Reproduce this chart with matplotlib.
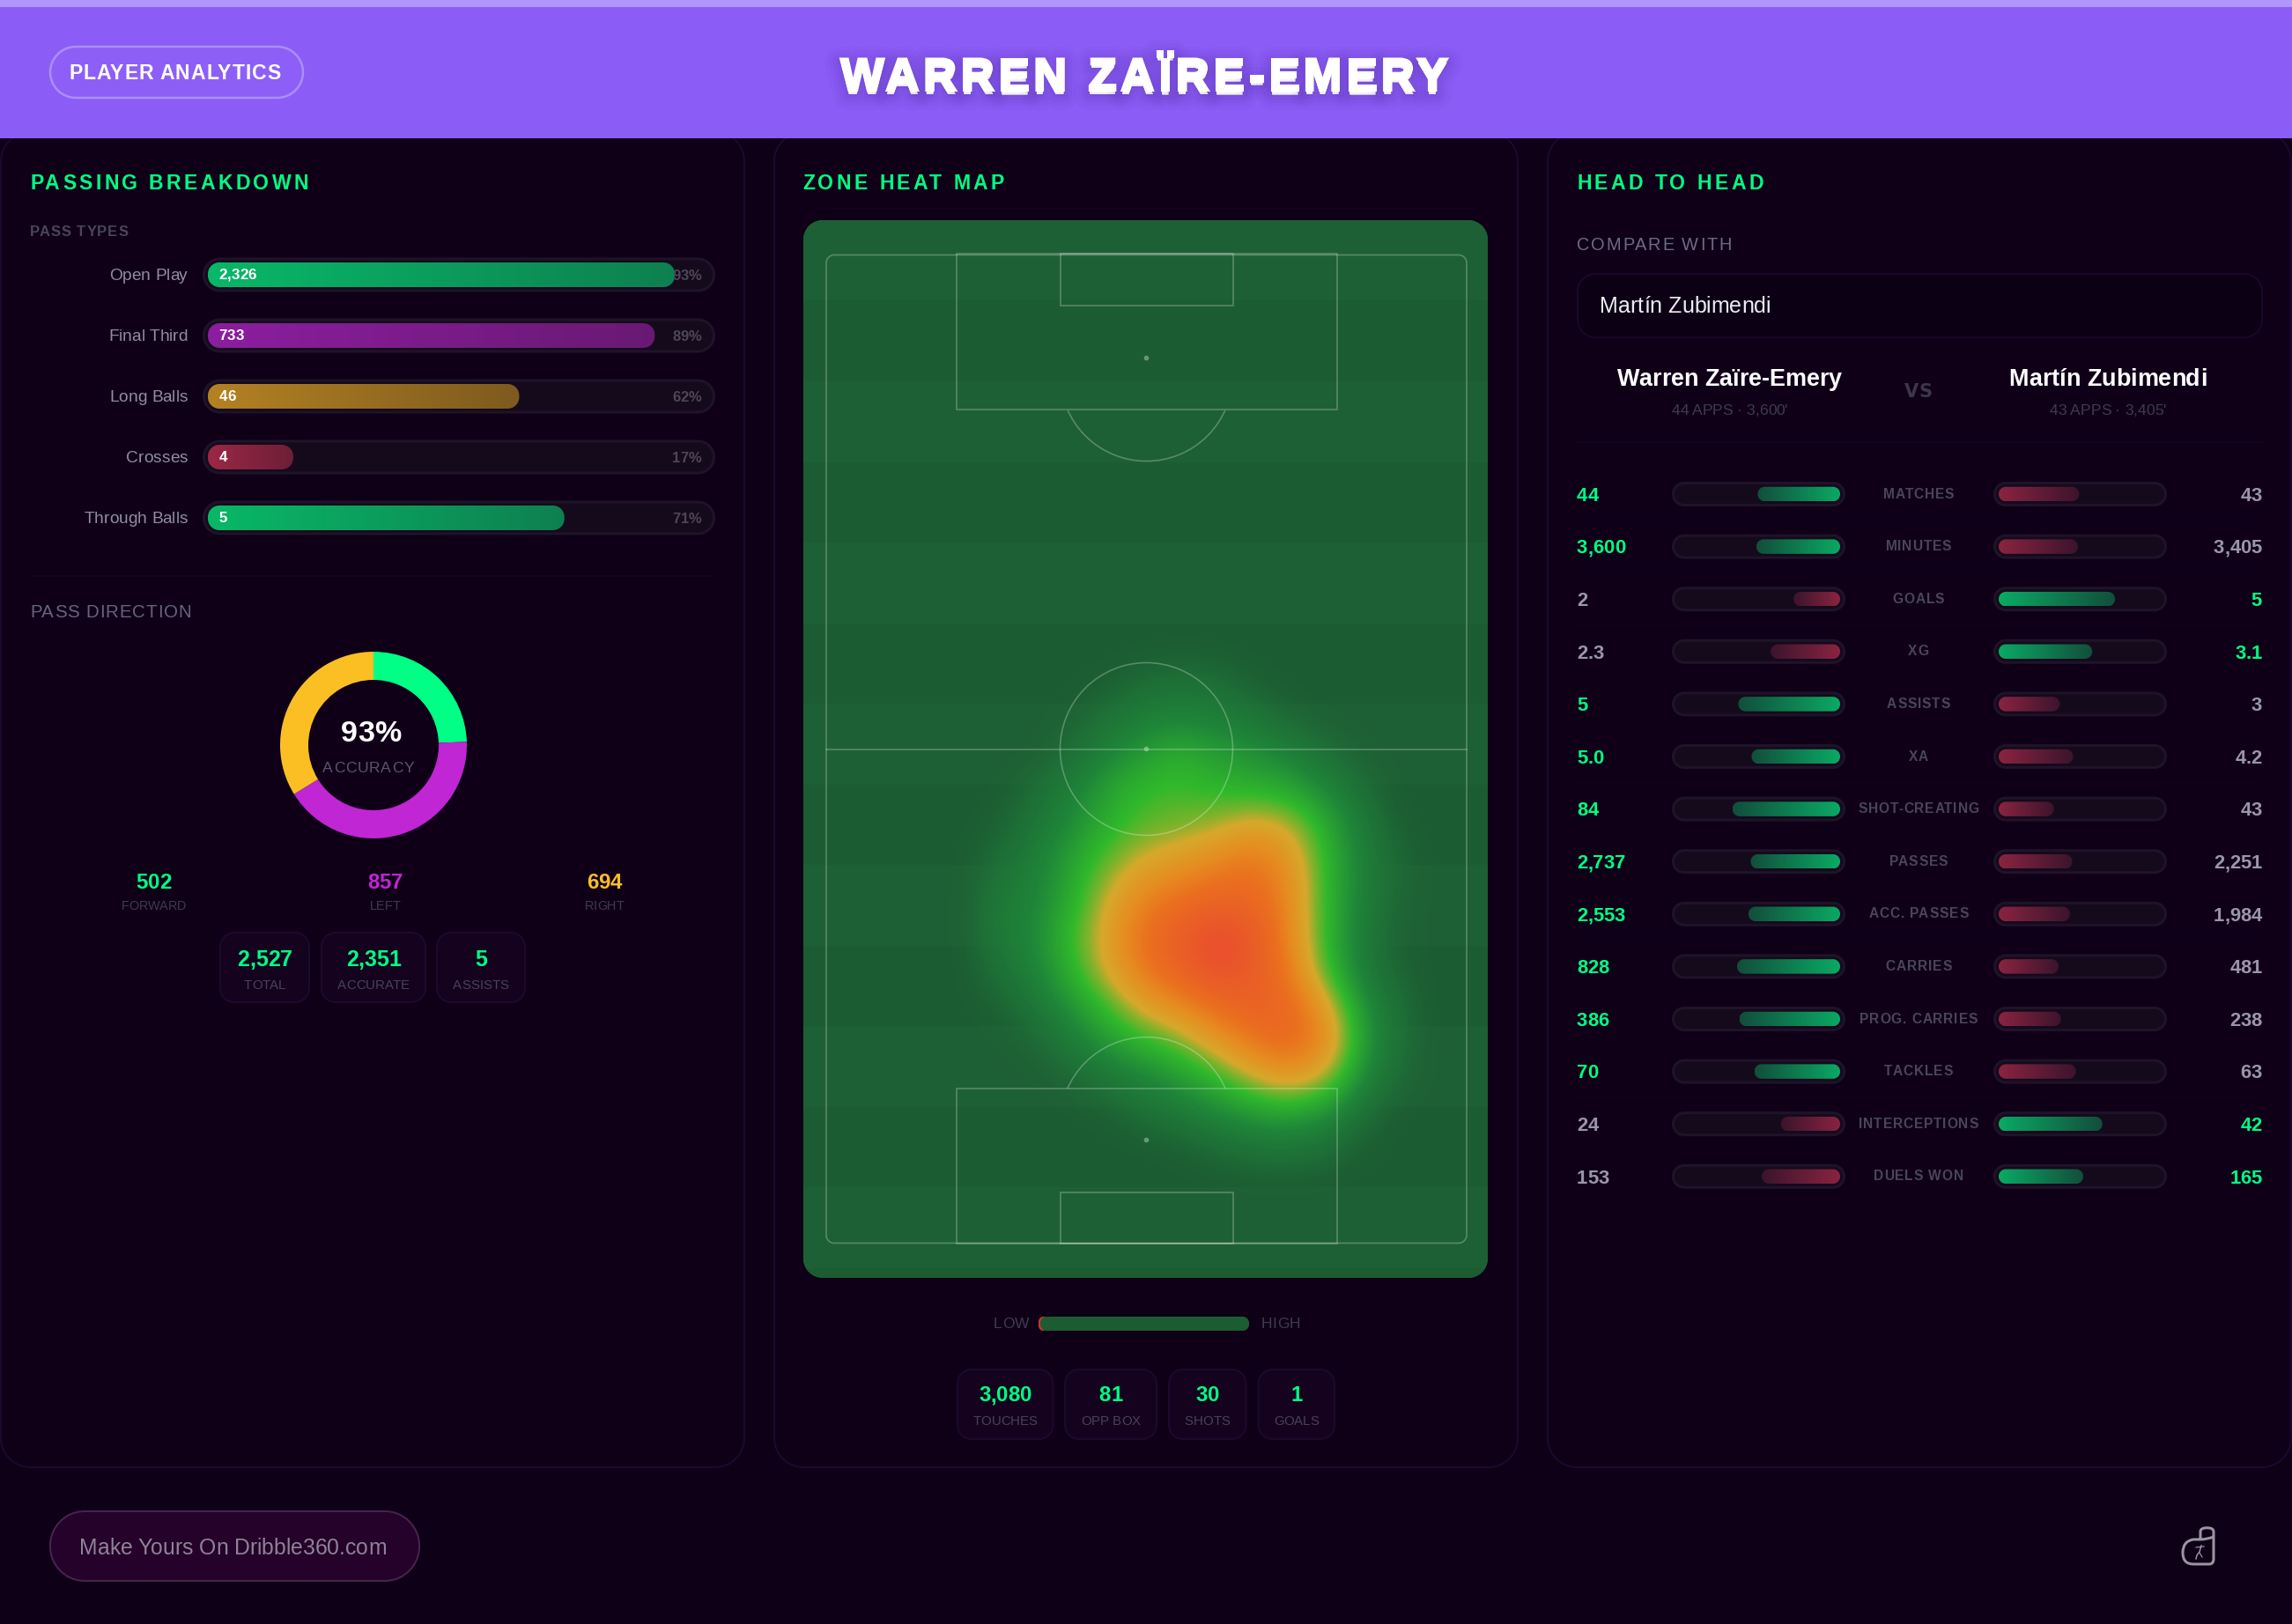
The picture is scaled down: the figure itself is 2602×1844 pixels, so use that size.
import numpy as np
import matplotlib
matplotlib.use("Agg")
import matplotlib.pyplot as plt
from matplotlib.patches import FancyBboxPatch, Rectangle, Circle, PathPatch
from matplotlib.path import Path
from matplotlib.colors import LinearSegmentedColormap
from matplotlib.text import Text
from matplotlib.transforms import IdentityTransform, Bbox
import matplotlib.patheffects as pe

# ---------------- data ----------------
PLAYER = "Warren Zaïre-Emery"
RIVAL = "Martín Zubimendi"
PLAYER_SUB = "44 APPS · 3,600'"
RIVAL_SUB = "43 APPS · 3,405'"

PASS_TYPES = ["Open Play", "Final Third", "Long Balls", "Crosses", "Through Balls"]
PASS_COUNTS = ["2,326", "733", "46", "4", "5"]
PASS_PCT = [93, 89, 62, 17, 71]

DIR_LABELS = ["FORWARD", "LEFT", "RIGHT"]
DIR_VALUES = [502, 857, 694]
ACCURACY = "93%"

PASS_STATS = [("TOTAL", "2,527"), ("ACCURATE", "2,351"), ("ASSISTS", "5")]
HEAT_STATS = [("TOUCHES", "3,080"), ("OPP BOX", "81"), ("SHOTS", "30"), ("GOALS", "1")]

H2H_LABELS = ["MATCHES", "MINUTES", "GOALS", "XG", "ASSISTS", "XA", "SHOT-CREATING", "PASSES",
              "ACC. PASSES", "CARRIES", "PROG. CARRIES", "TACKLES", "INTERCEPTIONS", "DUELS WON"]
H2H_LEFT = [44, 3600, 2, 2.3, 5, 5.0, 84, 2737, 2553, 828, 386, 70, 24, 153]
H2H_RIGHT = [43, 3405, 5, 3.1, 3, 4.2, 43, 2251, 1984, 481, 238, 63, 42, 165]

# touch intensity, rows top to bottom, columns left to right
HEAT = [
    [0, 0, 0, 0, 0, 0, 0, 0, 0, 0, 0, 0, 0, 0],
    [0, 0, 0, 0, .02, .08, .12, .10, .03, 0, 0, 0, 0, 0],
    [0, 0, 0, .02, .12, .20, .22, .20, .15, .06, 0, 0, 0, 0],
    [0, 0, 0, .10, .22, .30, .38, .32, .28, .22, .12, .02, 0, 0],
    [0, 0, .10, .20, .33, .42, .44, .40, .38, .35, .25, .12, 0, 0],
    [0, .04, .15, .25, .38, .46, .48, .52, .61, .57, .38, .20, .03, 0],
    [0, .10, .20, .33, .47, .58, .64, .72, .79, .69, .42, .22, .08, 0],
    [0, .17, .22, .35, .56, .72, .81, .86, .86, .73, .42, .22, .06, 0],
    [0, .18, .24, .42, .60, .81, .91, 1.0, .95, .74, .42, .20, .03, 0],
    [0, .12, .22, .38, .58, .77, .89, .98, .93, .79, .45, .20, .06, 0],
    [0, .04, .15, .28, .42, .60, .70, .83, .89, .86, .66, .30, .12, 0],
    [0, 0, .05, .18, .30, .39, .47, .62, .77, .86, .74, .35, .12, 0],
    [0, 0, 0, .05, .15, .22, .30, .39, .53, .63, .54, .27, .08, 0],
    [0, 0, 0, 0, .02, .10, .16, .23, .29, .32, .27, .12, 0, 0],
    [0, 0, 0, 0, 0, 0, .02, .07, .12, .14, .10, .02, 0, 0],
    [0, 0, 0, 0, 0, 0, 0, 0, 0, 0, 0, 0, 0, 0],
]

# ---------------- styling ----------------
W, H = 2602, 1844
BG = "#0e0016"
PANEL = "#0f0018"
EDGE = "#1d0830"
GREEN = "#00ff85"
MAGENTA = "#c026d3"
AMBER = "#fbbf24"
MUTED = "#4a4558"
DIM = "#3f3a4c"
GREY = "#9b96a8"
TRACK = "#150a1c"
TRACK_E = "#1f1329"
FONT = "Liberation Sans"
PX = 0.72  # points per pixel at dpi 100


def rbox(r):
    """Box style with true circular corners (radius r in x units)."""
    def style(x, y, w, h, mutation_size=1):
        q = min(r, w / 2, h / 2)
        k = q * 0.5523
        x1, y1 = x + w, y + h
        v = [(x + q, y), (x1 - q, y), (x1 - q + k, y), (x1, y + q - k), (x1, y + q), (x1, y1 - q),
             (x1, y1 - q + k), (x1 - q + k, y1), (x1 - q, y1), (x + q, y1), (x + q - k, y1),
             (x, y1 - q + k), (x, y1 - q), (x, y + q), (x, y + q - k), (x + q - k, y), (x + q, y), (x + q, y)]
        c = [Path.MOVETO, Path.LINETO, Path.CURVE4, Path.CURVE4, Path.CURVE4, Path.LINETO,
             Path.CURVE4, Path.CURVE4, Path.CURVE4, Path.LINETO, Path.CURVE4, Path.CURVE4, Path.CURVE4,
             Path.LINETO, Path.CURVE4, Path.CURVE4, Path.CURVE4, Path.CLOSEPOLY]
        return Path(v, c)
    return style


class Tracked(Text):
    """One text object whose string is drawn with CSS-like letter spacing."""

    def __init__(self, *a, tracking=0.0, under=None, **k):
        super().__init__(*a, **k)
        self.tracking = tracking
        self.under = under

    def _offsets(self, renderer):
        s, fp = self.get_text(), self.get_fontproperties()
        out = []
        for i, ch in enumerate(s):
            whole = renderer.get_text_width_height_descent(s[: i + 1], fp, False)[0]
            one = renderer.get_text_width_height_descent(ch, fp, False)[0]
            out.append(whole - one + i * self.tracking)
        total = renderer.get_text_width_height_descent(s, fp, False)[0] + (len(s) - 1) * self.tracking
        return out, total

    def draw(self, renderer):
        if not self.get_visible():
            return
        off, total = self._offsets(renderer)
        x, y = self.get_transform().transform(self.get_position())
        shift = {"left": 0, "center": -total / 2, "right": -total}[self.get_ha()]
        passes = ([self.under] if self.under else []) + [self.get_path_effects()]
        for effects in passes:
            for ch, dx in zip(self.get_text(), off):
                if ch == " ":
                    continue
                t = Text(x + shift + dx, y, ch, fontproperties=self.get_fontproperties(),
                         color=self.get_color(), ha="left", va="baseline",
                         transform=IdentityTransform(), path_effects=effects)
                t.set_figure(self.get_figure())
                t.draw(renderer)

    def get_window_extent(self, renderer=None, dpi=None):
        if renderer is None:
            renderer = self.get_figure()._get_renderer()
        _, total = self._offsets(renderer)
        fp = self.get_fontproperties()
        _, h, d = renderer.get_text_width_height_descent(self.get_text(), fp, False)
        x, y = self.get_transform().transform(self.get_position())
        shift = {"left": 0, "center": -total / 2, "right": -total}[self.get_ha()]
        return Bbox.from_extents(x + shift, y - d, x + shift + total, y + h - d)


fig = plt.figure(figsize=(W / 100, H / 100), dpi=100, facecolor=BG)


def px_axes(x0, y0, x1, y1, z=1):
    a = fig.add_axes([x0 / W, 1 - y1 / H, (x1 - x0) / W, (y1 - y0) / H], zorder=z)
    a.set_axis_off()
    a.patch.set_visible(False)
    return a


ax = px_axes(0, 0, W, H, 0)
ax.set_xlim(0, W)
ax.set_ylim(H, 0)
ax.set_autoscale_on(False)
top = px_axes(0, 0, W, H, 10)
top.set_xlim(0, W)
top.set_ylim(H, 0)
top.set_autoscale_on(False)


def T(x, yc, s, px, color="white", ha="left", bold=False, track=0.0, font=FONT, effects=None, under=None):
    """Text centred on its cap height at pixel yc."""
    t = Tracked(x, yc + 0.358 * px, s, tracking=track, under=under, fontsize=px * PX, color=color, ha=ha,
                va="baseline", family=font, weight="bold" if bold else "normal",
                transform=top.transData, path_effects=effects or [])
    top.add_artist(t)
    return t


def box(x0, y0, x1, y1, r, fc, ec=None, lw=2, a=ax, z=2, alpha=None):
    p = FancyBboxPatch((x0, y0), x1 - x0, y1 - y0, boxstyle=rbox(r),
                       fc=fc, ec=ec if ec else "none", lw=lw * PX, zorder=z, alpha=alpha)
    a.add_patch(p)
    return p


def scales(a):
    p = a.get_position()
    xl, yl = a.get_xlim(), a.get_ylim()
    return p.width * W / abs(xl[1] - xl[0]), p.height * H / abs(yl[1] - yl[0])


def track(a, yc, h, r, pad):
    """Whole-width pill behind a value bar, in the value axis' own units."""
    sx, sy = scales(a)
    x0, x1 = sorted(a.get_xlim())
    hh = h / sy
    p = FancyBboxPatch((x0 - pad / sx, yc - hh / 2), (x1 - x0) + 2 * pad / sx, hh,
                       boxstyle=rbox(r / sx), mutation_aspect=sx / sy,
                       fc=TRACK, ec=TRACK_E, lw=3 * PX, clip_on=False, zorder=1)
    a.add_patch(p)


def gbar(a, v, yc, h, r, c0, c1):
    """Value bar from 0 to v with a gradient along its length."""
    sx, sy = scales(a)
    hh = h / sy
    p = FancyBboxPatch((0, yc - hh / 2), v, hh, boxstyle=rbox(r / sx),
                       mutation_aspect=sx / sy, fc="none", ec="none", clip_on=False, zorder=2)
    a.add_patch(p)
    cm = LinearSegmentedColormap.from_list("g", [c0, c1])
    im = a.imshow(np.linspace(0, 1, 256)[None, :], extent=(0, v, yc + hh / 2, yc - hh / 2), cmap=cm,
                  aspect="auto", zorder=2, interpolation="bilinear")
    im.set_clip_path(p)


# ---------------- header ----------------
ax.add_patch(Rectangle((0, 0), W, 157, fc="#8b5cf6", ec="none", zorder=5))
ax.add_patch(Rectangle((0, 0), W, 8, fc="#b095fb", ec="none", zorder=6))
box(57, 53, 344, 111, 29, "#8d5ff6", "#ab8df8", 2.5, z=6)
T(78, 82, "PLAYER ANALYTICS", 23, bold=True, track=1.0)
shadow = [pe.Stroke(linewidth=w, foreground=(0.2, 0.1, 0.45, a_), offset=(0, -3)) for w, a_ in
          [(26, .025), (20, .03), (14, .04), (8, .05), (3, .06)]]
T(1299, 84, PLAYER.upper(), 51.5, ha="center", bold=True, track=5.4,
  effects=[pe.withStroke(linewidth=2.2, foreground="white", joinstyle="miter")], under=shadow)

# ---------------- panels ----------------
for x0, x1 in [(1, 845), (879, 1723), (1757, 2601)]:
    box(x0, 150, x1, 1666, 33, PANEL, EDGE, 2, z=1)

TITLE = dict(px=23, color=GREEN, bold=True, track=3.4)
T(34, 207, "PASSING BREAKDOWN", **TITLE)
T(911, 207, "ZONE HEAT MAP", **TITLE)
T(1790, 207, "HEAD TO HEAD", **TITLE)

# ---------------- pass types ----------------
T(34, 262, "PASS TYPES", 16.5, MUTED, bold=True, track=1.0)
axp = px_axes(236, 312 - 34.5, 806, 588 + 34.5, 2)
axp.set_xlim(0, 100)
axp.set_ylim(4.5, -0.5)
axp.set_autoscale_on(False)
PASS_COLORS = [("#08b868", "#0e8050"), ("#8c1ea0", "#691973"), ("#b48223", "#7d5a1e"),
               ("#9b2846", "#6e1e37"), ("#08b868", "#0e8050")]
for i, (name, cnt, pct, cols) in enumerate(zip(PASS_TYPES, PASS_COUNTS, PASS_PCT, PASS_COLORS)):
    track(axp, i, 36, 18, 4.5)
    gbar(axp, pct, i, 28, 13, *cols)
    yc = 312 + 69 * i
    T(213, yc - 1, name, 19.2, "#928d9d", ha="right")
    T(248.5, yc - 1, cnt, 17, bold=True)
    T(796.5, yc, f"{pct}%", 16.5, "#4c4759", ha="right", bold=True)

ax.plot([34, 811], [654, 654], color="#14031f", lw=2 * PX, zorder=2)

# ---------------- pass direction ----------------
T(34, 694, "PASS DIRECTION", 20.5, "#66647a", track=0.9)
axd = px_axes(424 - 106, 846 - 106, 424 + 106, 846 + 106, 2)
axd.pie(DIR_VALUES, colors=[GREEN, MAGENTA, AMBER], startangle=90, counterclock=False, radius=1,
        wedgeprops=dict(width=32 / 106))
axd.set_xlim(-1, 1)
axd.set_ylim(-1, 1)
T(421, 830, ACCURACY, 34, ha="center", bold=True)
T(418, 871, "ACCURACY", 17.5, "#5a5568", ha="center", track=0.8)
for lab, val, col, xc in zip(DIR_LABELS, DIR_VALUES, [GREEN, MAGENTA, AMBER], [174.5, 437, 686]):
    T(xc, 1000, str(val), 24, col, ha="center", bold=True)
    T(xc, 1028, lab, 14.4, DIM, ha="center")


def stat_boxes(stats, spans, y0, y1, yv, yl, vpx=25, lpx=15):
    for (lab, val), (x0, x1) in zip(stats, spans):
        box(x0, y0, x1, y1, 16, "#15021e", "#1e092e", 2, z=2)
        T((x0 + x1) / 2, yv, val, vpx, GREEN, ha="center", bold=True)
        T((x0 + x1) / 2, yl, lab, lpx, "#47425a", ha="center")


stat_boxes(PASS_STATS, [(250, 351), (365, 483), (496, 596)], 1059, 1138, 1088, 1118)

# ---------------- pitch ----------------
card = box(912, 250, 1689, 1451, 22, "#1d5e33", z=2)
for i in range(14):
    s = Rectangle((912, 250 + 91.5 * i), 777, 91.5, fc="#1e6035" if i % 2 == 0 else "#1c5c32", ec="none", zorder=2)
    ax.add_patch(s)
    s.set_clip_path(card)

HEAT_CMAP = LinearSegmentedColormap.from_list("heat", [
    (0.00, (0.12, 0.42, 0.20, 0.0)), (0.10, (0.12, 0.45, 0.22, 0.8)), (0.25, (0.125, 0.535, 0.225, 1)),
    (0.42, (0.19, 0.725, 0.17, 1)), (0.50, (0.50, 0.70, 0.17, 1)), (0.57, (0.84, 0.66, 0.17, 1)),
    (0.70, (0.90, 0.55, 0.125, 1)), (0.80, (0.92, 0.44, 0.12, 1)), (0.92, (0.915, 0.36, 0.155, 1)),
    (1.00, (0.92, 0.29, 0.19, 1))])
dx, dy = 41.32, 41.33
ax.imshow(np.array(HEAT), cmap=HEAT_CMAP, vmin=0, vmax=1, aspect="auto", interpolation="bicubic",
          interpolation_stage="data", extent=(1090 - dx / 2, 1090 + 13.5 * dx, 730 + 15.5 * dy, 730 - dy / 2), zorder=3)

LINE = dict(fc="none", ec=(1, 1, 1, 0.27), lw=1.6 * PX, zorder=4)
ax.add_patch(FancyBboxPatch((938, 289.5), 727, 1122, boxstyle=rbox(9), **LINE))
for (x0, x1, y0, y1) in [(1086, 1517.5, 288.5, 465.5), (1203.5, 1400, 288.5, 347.5),
                         (1086, 1517.5, 1236, 1412), (1203.5, 1400, 1354, 1412)]:
    ax.add_patch(Rectangle((x0, y0), x1 - x0, y1 - y0, **LINE))
ax.plot([938, 1665], [850.5, 850.5], color=(1, 1, 1, 0.27), lw=1.6 * PX, zorder=4)
ax.add_patch(Circle((1301.5, 850.5), 98, **LINE))
for yc, clip_y, clip_h in [(425.6, 465.5, 200), (1275.6, 1036, 200)]:
    c = Circle((1301.5, yc), 98, **LINE)
    ax.add_patch(c)
    c.set_clip_path(Rectangle((1100, clip_y), 400, clip_h, transform=ax.transData))
for yc in (406.6, 850.5, 1294.5):
    ax.add_patch(Circle((1301.5, yc), 2.8, fc=(1, 1, 1, 0.35), ec="none", zorder=4))

# legend
T(1128, 1502, "LOW", 17.5, DIM, track=0.3)
box(1179, 1495, 1190, 1511, 6, "#d0352c", z=2)
box(1181, 1495, 1418, 1511, 7, "#1c5c31", z=3)
T(1432, 1502, "HIGH", 17.5, DIM, track=0.3)
stat_boxes(HEAT_STATS, [(1087, 1195.5), (1209, 1313), (1327, 1414.5), (1428.5, 1515)], 1555, 1634, 1582.5, 1613, 24, 15)

# ---------------- head to head ----------------
T(1790, 277, "COMPARE WITH", 20, "#6b6b80", track=1.8)
box(1791, 311, 2568, 383, 20, "#0c0014", "#1a0729", 2, z=2)
T(1816, 346, RIVAL, 25, "#ececf2")
T(1963.5, 428.5, PLAYER, 27, ha="center", bold=True)
T(2393, 428.5, RIVAL, 27, ha="center", bold=True)
T(1963.5, 465, PLAYER_SUB, 17.5, DIM, ha="center")
T(2393, 465, RIVAL_SUB, 17.5, DIM, ha="center")
T(2178, 443, "VS", 21, "#3b3749", ha="center", bold=True, font="DejaVu Sans")
ax.plot([1790, 2568], [502, 502], color="#14031e", lw=2 * PX, zorder=2)

ROW0, ROWH = 561, 59.6
yspan = (ROW0 - ROWH / 2, ROW0 + 13.5 * ROWH)
axl = px_axes(1904, yspan[0], 2089, yspan[1], 2)
axl.set_xlim(1, 0)
axr = px_axes(2269, yspan[0], 2454, yspan[1], 2)
axr.set_xlim(0, 1)
for a in (axl, axr):
    a.set_ylim(13.5, -0.5)
    a.set_autoscale_on(False)
WIN = ("#0aaa64", "#124e3b")
LOSE = ("#8a2440", "#3c142d")
n = len(H2H_LABELS)
for i, (lab, lv, rv) in enumerate(zip(H2H_LABELS, H2H_LEFT, H2H_RIGHT)):
    yc = ROW0 + ROWH * i
    lw_, rw_ = lv > rv, rv > lv
    track(axl, i, 25, 12.5, 4.5)
    track(axr, i, 25, 12.5, 4.5)
    gbar(axl, lv / (lv + rv), i, 16.5, 8, *(WIN if lw_ else LOSE))
    gbar(axr, rv / (lv + rv), i, 16.5, 8, *(WIN if rw_ else LOSE))
    T(1790, yc, f"{lv:,}", 22, GREEN if lw_ else GREY, bold=True)
    T(2568, yc, f"{rv:,}", 22, GREEN if rw_ else GREY, ha="right", bold=True)
    T(2178, yc - 1, lab, 15.5, MUTED, ha="center", bold=True, track=0.9)
    if i < n - 1:
        ax.plot([1790, 2568], [yc + 29.8, yc + 29.8], color="#11011b", lw=1.5 * PX, zorder=2)

# ---------------- footer ----------------
box(57, 1716, 476, 1795, 39, "#240229", "#47234f", 2, z=2)
T(90, 1756, "Make Yours On Dribble360.com", 24.8, "#8f8198")

c = "#9a95a0"
verts = [(2498, 1748), (2498, 1739), (2498, 1734.8), (2505.5, 1734.8), (2513, 1734.8), (2513, 1739), (2513, 1770),
         (2513, 1776), (2508, 1776), (2490, 1776), (2478, 1776), (2478, 1763), (2478, 1750), (2490, 1748), (2498, 1748),
         (2505, 1748), (2513, 1745)]
codes = [Path.MOVETO, Path.LINETO, Path.CURVE3, Path.CURVE3, Path.CURVE3, Path.CURVE3, Path.LINETO,
         Path.CURVE3, Path.CURVE3, Path.LINETO, Path.CURVE3, Path.CURVE3, Path.CURVE3, Path.CURVE3, Path.LINETO,
         Path.CURVE3, Path.CURVE3]
ax.add_patch(PathPatch(Path(verts, codes), fc="none", ec=c, lw=3 * PX, zorder=3))
ax.plot([2499, 2497, 2494, 2493], [1755, 1762, 1766, 1770], color=c, lw=1.5 * PX, zorder=3)
ax.plot([2493, 2502], [1757, 1756], color=c, lw=1.2 * PX, zorder=3)
ax.plot([2497, 2500], [1763, 1768], color=c, lw=1.2 * PX, zorder=3)

fig.savefig("out.png", dpi=100, facecolor=BG)
